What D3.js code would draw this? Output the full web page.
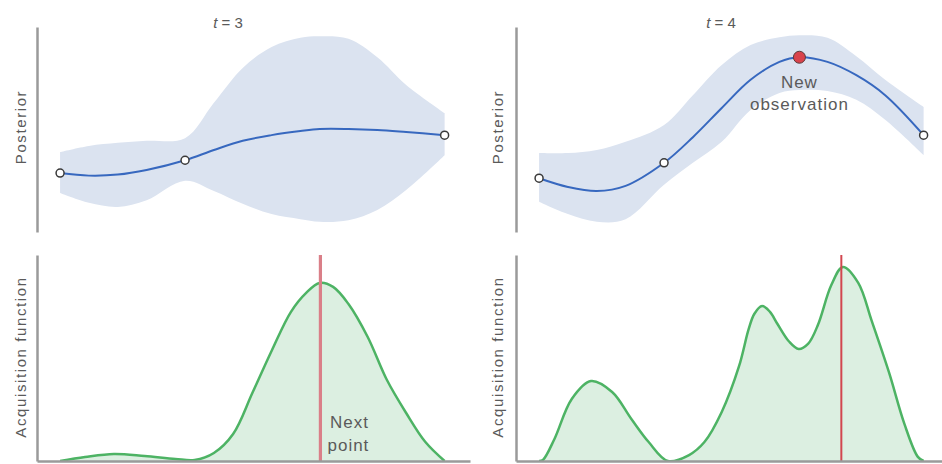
<!DOCTYPE html>
<html>
<head>
<meta charset="utf-8">
<script src="https://cdn.jsdelivr.net/npm/d3@7"></script>
<style>
  html, body { margin: 0; padding: 0; background: #fff; }
  svg { display: block; }
  text { font-family: "Liberation Sans", Arial, Helvetica, sans-serif; fill: #5a5a5a; }
</style>
</head>
<body>
<svg id="chart" width="942" height="464"></svg>
<script>
// ---- Gaussian-process posterior at step t = 3 ----
const postX3     = [0, 0.75, 1.5, 2.25, 3.25, 4, 4.75, 5.5, 6.25, 6.75, 7.5, 8.25, 9, 10];
const postMean3  = [-0.85, -0.90, -0.88, -0.79, -0.60, -0.40, -0.22, -0.11, -0.03, 0.01, 0.01, -0.01, -0.05, -0.11];
const postUpper3 = [-0.44, -0.32, -0.26, -0.22, -0.17, 0.52, 1.20, 1.61, 1.79, 1.82, 1.77, 1.41, 0.87, 0.32];
const postLower3 = [-1.24, -1.43, -1.51, -1.38, -1.00, -1.20, -1.45, -1.65, -1.75, -1.80, -1.77, -1.57, -1.18, -0.50];
const obsX3 = [0, 3.25, 10];
const obsY3 = [-0.85, -0.60, -0.11];

// ---- Acquisition function at step t = 3 ----
const acqX3 = [0, 0.65, 1.4, 2.2, 3.0, 3.5, 4.0, 4.5, 5.0, 5.5, 6.0, 6.4, 6.75, 7.1, 7.5, 8.0, 8.5, 9.0, 9.5, 10];
const acqY3 = [0, 0.019, 0.034, 0.024, 0.010, 0.005, 0.039, 0.131, 0.330, 0.534, 0.723, 0.816, 0.864, 0.845, 0.762, 0.602, 0.393, 0.233, 0.092, 0];
const nextX3 = 6.77;

// ---- Gaussian-process posterior at step t = 4 ----
const postX4     = [0, 0.75, 1.5, 2.25, 3.25, 4, 4.75, 5.5, 6.25, 6.77, 7.5, 8.25, 9, 10];
const postMean4  = [-0.95, -1.12, -1.20, -1.10, -0.65, -0.15, 0.42, 0.97, 1.32, 1.41, 1.32, 1.06, 0.67, -0.11];
const postUpper4 = [-0.46, -0.46, -0.40, -0.24, 0.09, 0.67, 1.26, 1.65, 1.80, 1.84, 1.79, 1.43, 0.97, 0.44];
const postLower4 = [-1.41, -1.65, -1.80, -1.75, -1.08, -0.65, -0.24, 0.38, 0.71, 0.77, 0.75, 0.58, 0.19, -0.50];
const obsX4 = [0, 3.25, 10];
const obsY4 = [-0.95, -0.65, -0.11];
const newObsX4 = 6.77;
const newObsY4 = 1.41;

// ---- Acquisition function at step t = 4 ----
const acqX4 = [0, 0.1, 0.4, 0.85, 1.35, 1.9, 2.4, 2.85, 3.35, 3.9, 4.3, 4.75, 5.2, 5.45, 5.6, 5.8, 6.0, 6.2, 6.5, 6.75, 7.0, 7.25, 7.6, 7.9, 8.3, 8.65, 9.1, 9.5, 9.85, 10];
const acqY4 = [0, 0.005, 0.107, 0.301, 0.388, 0.335, 0.204, 0.092, 0, 0.029, 0.092, 0.238, 0.460, 0.640, 0.715, 0.752, 0.725, 0.665, 0.580, 0.544, 0.570, 0.660, 0.854, 0.942, 0.865, 0.680, 0.430, 0.180, 0.020, 0];
const nextX4 = 7.86;

const titles = ["t = 3", "t = 4"];

// ---- layout ----
const svg = d3.select("#chart");
const panelW = 433;
const panelLeft = [37, 516];
const topY = 27, topH = 205;
const botY = 255, botH = 206;

const x = d3.scaleLinear().domain([-0.6, 10.66]).range([0, panelW]);
const yPost = d3.scaleLinear().domain([-2, 2]).range([topH, 0]);
const yAcq = d3.scaleLinear().domain([0, 1]).range([botH, 0]);
const smooth = d3.curveCatmullRom.alpha(0.5);

const colors = {
  band: "#dbe3f0",
  mean: "#3768bf",
  acqLine: "#4db364",
  acqFill: "#dcefe1",
  axis: "#9a9a9a",
  obsStroke: "#3a3a3a",
  newObs: "#d9434c"
};

function zip(xs, ys) { return xs.map((v, i) => [v, ys[i]]); }

// clip region keeps the acquisition curve from dipping under its baseline
const defs = svg.append("defs");
defs.append("clipPath").attr("id", "acq-clip")
  .append("rect")
  .attr("x", 0).attr("y", -10)
  .attr("width", panelW).attr("height", botH + 11);

function drawPosterior(g, xs, mean, upper, lower, ox, oy) {
  const band = xs.map((v, i) => ({ x: v, lo: lower[i], hi: upper[i] }));
  g.append("path")
    .datum(band)
    .attr("fill", colors.band)
    .attr("d", d3.area()
      .x(d => x(d.x))
      .y0(d => yPost(d.lo))
      .y1(d => yPost(d.hi))
      .curve(smooth));

  g.append("path")
    .datum(zip(xs, mean))
    .attr("fill", "none")
    .attr("stroke", colors.mean)
    .attr("stroke-width", 2)
    .attr("d", d3.line()
      .x(d => x(d[0]))
      .y(d => yPost(d[1]))
      .curve(smooth));

  g.selectAll("circle.obs")
    .data(zip(ox, oy))
    .join("circle")
    .attr("class", "obs")
    .attr("cx", d => x(d[0]))
    .attr("cy", d => yPost(d[1]))
    .attr("r", 4)
    .attr("fill", "#fff")
    .attr("stroke", colors.obsStroke)
    .attr("stroke-width", 1.5);

  g.append("g")
    .attr("class", "axis")
    .call(d3.axisLeft(yPost).tickValues([]).tickSizeOuter(0))
    .call(a => a.select(".domain").attr("stroke", colors.axis).attr("stroke-width", 2.5));
}

function drawAcquisition(g, xs, ys, nextX, nextColor, nextWidth) {
  const pts = zip(xs, ys);
  const clipped = g.append("g").attr("clip-path", "url(#acq-clip)");
  clipped.append("path")
    .datum(pts)
    .attr("fill", colors.acqFill)
    .attr("d", d3.area()
      .x(d => x(d[0]))
      .y0(yAcq(0))
      .y1(d => yAcq(d[1]))
      .curve(smooth));

  clipped.append("path")
    .datum(pts)
    .attr("fill", "none")
    .attr("stroke", colors.acqLine)
    .attr("stroke-width", 2.5)
    .attr("d", d3.line()
      .x(d => x(d[0]))
      .y(d => yAcq(d[1]))
      .curve(smooth));

  g.append("line")
    .attr("x1", x(nextX)).attr("x2", x(nextX))
    .attr("y1", yAcq(1)).attr("y2", yAcq(0))
    .attr("stroke", nextColor)
    .attr("stroke-width", nextWidth);

  g.append("g")
    .attr("class", "axis")
    .call(d3.axisLeft(yAcq).tickValues([]).tickSizeOuter(0))
    .call(a => a.select(".domain").attr("stroke", colors.axis).attr("stroke-width", 2.5));

  g.append("g")
    .attr("class", "axis")
    .attr("transform", `translate(0,${botH})`)
    .call(d3.axisBottom(x).tickValues([]).tickSizeOuter(0))
    .call(a => a.select(".domain").attr("stroke", colors.axis).attr("stroke-width", 2.5));
}

function yLabel(g, text, cy, bx) {
  g.append("text")
    .attr("transform", `translate(${bx},${cy}) rotate(-90)`)
    .attr("text-anchor", "middle")
    .style("font-size", "15px")
    .style("letter-spacing", "1.6px")
    .text(text);
}

function title(g, label, cx) {
  const parts = label.split(" ");
  const t = g.append("text")
    .attr("x", cx).attr("y", 28)
    .attr("text-anchor", "middle")
    .style("font-size", "15px");
  t.append("tspan").style("font-style", "italic").text(parts[0]);
  t.append("tspan").text(" " + parts.slice(1).join(" "));
}

const panels = [
  { post: [postX3, postMean3, postUpper3, postLower3, obsX3, obsY3], acq: [acqX3, acqY3, nextX3, "#da7f88", 3.2], titleX: 228, labelX: 26 },
  { post: [postX4, postMean4, postUpper4, postLower4, obsX4, obsY4], acq: [acqX4, acqY4, nextX4, "#d2464f", 2], titleX: 721, labelX: 503 }
];

panels.forEach((p, i) => {
  const gTop = svg.append("g").attr("transform", `translate(${panelLeft[i]},${topY})`);
  drawPosterior(gTop, ...p.post);
  const gBot = svg.append("g").attr("transform", `translate(${panelLeft[i]},${botY})`);
  drawAcquisition(gBot, ...p.acq);
  title(svg, titles[i], p.titleX);
  yLabel(svg, "Posterior", 127, p.labelX);
  yLabel(svg, "Acquisition function", 357, p.labelX);
});

// newly observed point at t = 4
const gNew = svg.append("g").attr("transform", `translate(${panelLeft[1]},${topY})`);
gNew.append("circle")
  .attr("cx", x(newObsX4))
  .attr("cy", yPost(newObsY4))
  .attr("r", 6)
  .attr("fill", colors.newObs)
  .attr("stroke", "#5a3a3a")
  .attr("stroke-width", 1);

const noteStyle = t => t.attr("text-anchor", "middle").style("font-size", "17px").style("letter-spacing", "1px");
gNew.append("text").attr("x", x(newObsX4)).attr("y", 88 - topY).text("New").call(noteStyle);
gNew.append("text").attr("x", x(newObsX4)).attr("y", 110 - topY).text("observation").call(noteStyle);

const gNext = svg.append("g").attr("transform", `translate(${panelLeft[0]},${botY})`);
gNext.append("text").attr("x", x(nextX3) + 29).attr("y", 428 - botY).text("Next").call(noteStyle);
gNext.append("text").attr("x", x(nextX3) + 28).attr("y", 451 - botY).text("point").call(noteStyle);
</script>
</body>
</html>
